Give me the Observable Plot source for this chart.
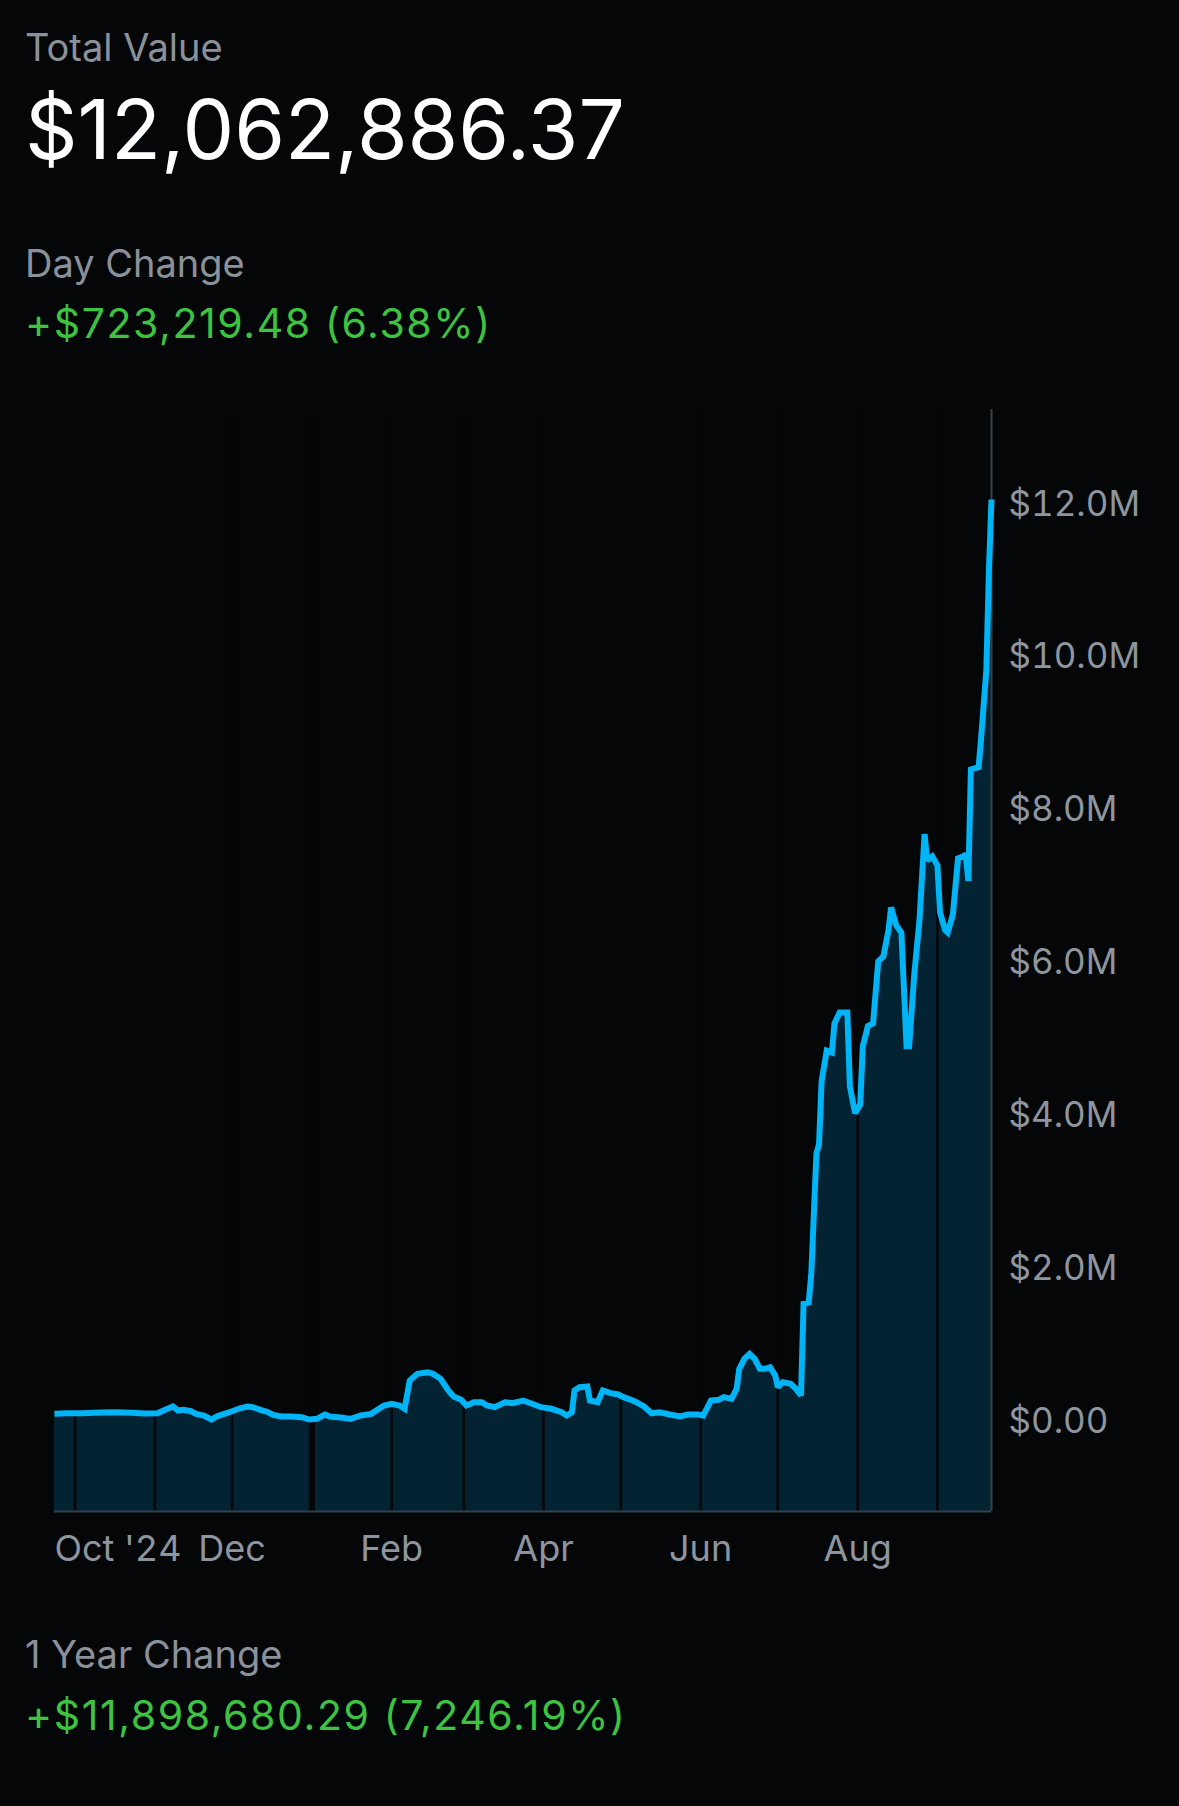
<!DOCTYPE html>
<html>
<head>
<meta charset="utf-8">
<script src="https://cdn.jsdelivr.net/npm/d3@7"></script>
<script src="https://cdn.jsdelivr.net/npm/@observablehq/plot@0.6"></script>
<style>
  html, body { margin: 0; padding: 0; background: #050608; width: 1179px; height: 1806px; overflow: hidden; }
  body { font-family: Inter, "Noto Sans", sans-serif; position: relative; }
  .t { position: absolute; left: 25px; line-height: 1; white-space: nowrap; }
  .lbl { color: #8a919a; font-size: 38px; }
  .big { color: #ffffff; font-size: 82px; }
  .grn { color: #3ec340; font-size: 41px; letter-spacing: 1.6px; }
  #chart { position: absolute; left: 0; top: 380px; }
</style>
</head>
<body>
<div id="header"></div>
<div id="chart"></div>
<div id="footer"></div>
<script>
// ---- texts ----
const titleLabel = "Total Value";
const totalValue = "$12,062,886.37";
const dayLabel = "Day Change";
const dayChange = "+$723,219.48 (6.38%)";
const yearLabel = "1 Year Change";
const yearChange = "+$11,898,680.29 (7,246.19%)";

// ---- series (value in $ millions) ----
const dates = [
  "2024-09-23","2024-09-28","2024-10-04","2024-10-11","2024-10-17","2024-10-23","2024-10-28",
  "2024-11-02","2024-11-05","2024-11-08","2024-11-10","2024-11-12","2024-11-15","2024-11-17",
  "2024-11-20","2024-11-23","2024-11-25","2024-11-28","2024-12-01","2024-12-04","2024-12-07",
  "2024-12-09","2024-12-12","2024-12-15","2024-12-17","2024-12-20","2024-12-24","2024-12-28",
  "2024-12-31","2025-01-03","2025-01-06","2025-01-08","2025-01-11","2025-01-13","2025-01-16",
  "2025-01-20","2025-01-24","2025-01-26","2025-01-29","2025-02-01","2025-02-04","2025-02-06",
  "2025-02-08","2025-02-11","2025-02-15","2025-02-17","2025-02-20","2025-02-23","2025-02-25",
  "2025-02-28","2025-03-02","2025-03-05","2025-03-08","2025-03-10","2025-03-13","2025-03-17",
  "2025-03-20","2025-03-24","2025-03-27","2025-03-31","2025-04-04","2025-04-08","2025-04-10",
  "2025-04-12","2025-04-13","2025-04-15","2025-04-18","2025-04-19","2025-04-22","2025-04-24",
  "2025-04-27","2025-04-30","2025-05-02","2025-05-05","2025-05-07","2025-05-10","2025-05-13",
  "2025-05-16","2025-05-20","2025-05-24","2025-05-27","2025-05-31","2025-06-02","2025-06-05",
  "2025-06-08","2025-06-10","2025-06-13","2025-06-15","2025-06-16","2025-06-18","2025-06-20",
  "2025-06-22","2025-06-24","2025-06-26","2025-06-28","2025-06-30","2025-07-01","2025-07-03",
  "2025-07-06","2025-07-08","2025-07-10","2025-07-11","2025-07-13","2025-07-14","2025-07-16",
  "2025-07-17","2025-07-18","2025-07-20","2025-07-22","2025-07-23","2025-07-25","2025-07-28",
  "2025-07-29","2025-07-31","2025-08-02","2025-08-03","2025-08-05","2025-08-07","2025-08-09",
  "2025-08-11","2025-08-13","2025-08-14","2025-08-16","2025-08-18","2025-08-20","2025-08-21",
  "2025-08-23","2025-08-25","2025-08-27","2025-08-28","2025-08-30","2025-09-01","2025-09-02",
  "2025-09-04","2025-09-05","2025-09-07","2025-09-09","2025-09-11","2025-09-12","2025-09-13",
  "2025-09-14","2025-09-17","2025-09-18","2025-09-20","2025-09-21","2025-09-22"
];
const values = [
  0.107,0.115,0.115,0.124,0.128,0.120,0.111,
  0.115,0.159,0.203,0.150,0.159,0.141,0.107,
  0.085,0.033,0.072,0.107,0.141,0.180,0.203,
  0.194,0.159,0.128,0.094,0.072,0.072,0.063,
  0.033,0.042,0.098,0.072,0.063,0.055,0.040,
  0.085,0.107,0.150,0.216,0.238,0.216,0.173,
  0.543,0.630,0.651,0.630,0.565,0.412,0.334,
  0.290,0.216,0.259,0.259,0.216,0.194,0.259,
  0.246,0.281,0.246,0.194,0.173,0.128,0.085,
  0.128,0.412,0.455,0.464,0.281,0.259,0.412,
  0.377,0.360,0.325,0.290,0.259,0.203,0.115,
  0.128,0.098,0.072,0.098,0.098,0.085,0.281,
  0.290,0.325,0.303,0.434,0.696,0.827,0.892,
  0.827,0.696,0.696,0.717,0.608,0.455,0.521,
  0.500,0.434,0.347,1.546,1.563,1.942,3.512,
  3.629,4.453,4.858,4.832,5.212,5.356,5.356,
  4.388,4.039,4.152,4.911,5.178,5.212,6.023,
  6.088,6.433,6.729,6.494,6.402,4.915,4.915,
  5.853,6.550,7.688,7.343,7.396,7.278,6.666,
  6.433,6.402,6.637,7.370,7.396,7.425,7.075,
  8.534,8.564,8.956,9.829,11.137,12.063
];

// ---- axes ----
const monthStarts = ["2024-10-01","2024-11-01","2024-12-01","2025-01-01","2025-02-01","2025-03-01",
  "2025-04-01","2025-05-01","2025-06-01","2025-07-01","2025-08-01","2025-09-01"];
const xTickDates = ["2024-12-01","2025-02-01","2025-04-01","2025-06-01","2025-08-01"];
const xTickLabels = ["Dec","Feb","Apr","Jun","Aug"];
const firstTickLabel = "Oct '24";
const yTicks = [0, 2, 4, 6, 8, 10, 12];
const yTickLabels = ["$0.00","$2.0M","$4.0M","$6.0M","$8.0M","$10.0M","$12.0M"];
const yDomain = [-1.17, 13.24];

// ---- header / footer ----
function addText(parent, cls, top, text) {
  const d = document.createElement("div");
  d.className = "t " + cls;
  d.style.top = top + "px";
  d.textContent = text;
  document.getElementById(parent).appendChild(d);
}
addText("header", "lbl", 28, titleLabel);
addText("header", "big", 89, totalValue);
addText("header", "lbl", 244, dayLabel);
addText("header", "grn", 303, dayChange);
addText("footer", "lbl", 1635, yearLabel);
addText("footer", "grn", 1695, yearChange);

// ---- chart ----
const data = dates.map((d, i) => ({date: new Date(d), value: values[i]}));
const first = data[0].date, last = data[data.length - 1].date;
const xLabelMap = new Map(xTickDates.map((d, i) => [+new Date(d), xTickLabels[i]]));
const bg = "#050608";

const chart = Plot.plot({
  width: 1179,
  height: 1220,
  marginTop: 29,
  marginBottom: 89,
  marginLeft: 54,
  marginRight: 188,
  style: {background: bg, color: "#8e959e", fontFamily: "Inter, 'Noto Sans', sans-serif", fontSize: "36px", overflow: "visible"},
  x: {type: "utc", domain: [first, last]},
  y: {domain: yDomain},
  marks: [
    Plot.areaY(data, {x: "date", y1: yDomain[0], y2: "value", fill: "#032232", curve: "linear"}),
    Plot.ruleX(monthStarts.map(d => new Date(d)), {stroke: bg, strokeWidth: d => d.getUTCMonth() === 0 ? 6 : 2.5}),
    Plot.ruleY([yDomain[0]], {stroke: "#34414c", strokeWidth: 2}),
    Plot.ruleX([last], {stroke: "#3a3f44", strokeWidth: 2}),
    Plot.lineY(data, {x: "date", y: "value", stroke: "#00b4f5", strokeWidth: 6, strokeLinejoin: "miter", strokeMiterlimit: 2, strokeLinecap: "butt"}),
    Plot.axisY(yTicks, {anchor: "right", tickSize: 0, tickPadding: 17, label: null,
      tickFormat: d => yTickLabels[yTicks.indexOf(d)], fontSize: 35, fill: "#8e959e"}),
    Plot.axisX(xTickDates.map(d => new Date(d)), {anchor: "bottom", tickSize: 0, tickPadding: 24, label: null,
      tickFormat: d => xLabelMap.get(+d), fontSize: 36, fill: "#8e959e"}),
    Plot.axisX([first], {anchor: "bottom", tickSize: 0, tickPadding: 24, label: null, textAnchor: "start",
      tickFormat: () => firstTickLabel, fontSize: 36, fill: "#8e959e"})
  ]
});
document.getElementById("chart").appendChild(chart);
</script>
</body>
</html>
